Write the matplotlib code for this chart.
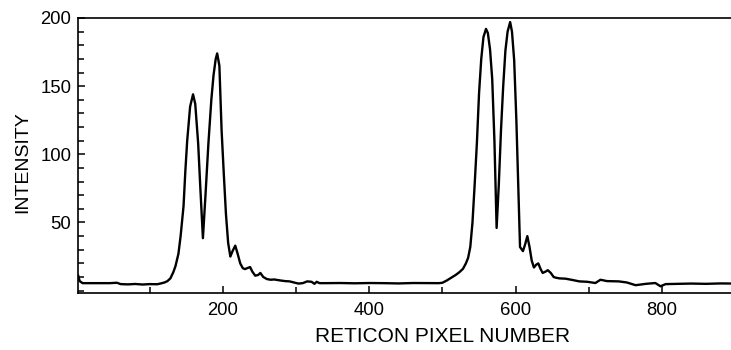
import matplotlib
matplotlib.use("Agg")
import matplotlib.pyplot as plt
from matplotlib.ticker import MultipleLocator

plt.rcParams['font.family'] = ['Liberation Sans', 'DejaVu Sans']

pixel = [2, 4, 8, 15, 30, 45, 55, 60, 70, 80, 90, 100, 110, 115, 120, 124, 128,
         132, 135, 139, 142, 146, 148.5, 151, 155, 159, 162, 166, 169, 172.5,
         176, 180, 184, 187, 190, 192, 195, 198, 201, 204, 207, 210, 213,
         216.7, 220, 223.5, 227, 230, 233, 237, 240, 244, 248, 251,
         255, 260, 265, 270, 278, 285, 291, 297, 303, 309, 315, 321, 325, 328,
         332, 340, 360, 380, 400, 420, 440, 460, 480, 495, 500, 506, 512, 518,
         523, 528, 532, 535, 538, 541, 544, 547, 550, 553, 556, 559.5, 562, 565,
         568, 571, 574, 577, 580, 583, 586, 589, 592.5, 595, 598, 601, 604, 606,
         610, 613, 616, 619, 622, 625, 628, 631, 634, 637, 641, 644, 648, 652,
         655, 660, 668, 678, 687, 698, 709, 716, 725, 741, 752, 764, 778, 791,
         798, 805, 820, 840, 860, 880, 900]

intensity = [11, 7, 5.5, 5.5, 5.5, 5.5, 5.8, 4.8, 4.6, 4.9, 4.5, 4.8, 4.7, 5.3,
             6, 7, 9,
             13.5, 18, 27, 40, 62, 88, 110, 135, 144, 137, 108, 75, 38.5,
             70, 108, 140, 158, 170, 174, 165, 118, 86, 56, 35, 25, 29,
             33, 27, 20, 16.5, 15.8, 16.5, 17.3, 14, 11, 11.5, 13,
             10, 8.5, 8, 8.2, 7.5, 7, 6.8, 6, 5.2, 5.5, 6.8, 6.5, 5, 6.5,
             5.5, 5.5, 5.6, 5.4, 5.6, 5.5, 5.3, 5.6, 5.5, 5.5, 5.8, 7.5, 9.5, 11.5,
             13.5, 16, 20, 24, 32, 50, 78, 108, 145, 170, 186, 192, 189, 177,
             155, 110, 46, 78, 118, 150, 176, 190, 197, 190, 169, 125, 70, 32,
             29, 34, 40, 32, 22, 17, 19, 20, 16, 13, 14, 15, 13, 10,
             9.5, 9, 8.8, 7.8, 6.8, 6.5, 5.6, 8, 7, 6.8, 6, 4, 5, 5.6,
             3.2, 4.8, 5, 5.2, 5, 5.3, 5.2]

x_major = [200, 400, 600, 800]
y_major = [50, 100, 150, 200]

W, H = 731, 350
fig = plt.figure(figsize=(W / 100, H / 100), dpi=100)
x0, x1 = 2, 900
y0, y1 = -1.5, 200
left_px, bottom_px = 78.2, 57.3
ax = fig.add_axes([left_px / W, bottom_px / H,
                   (x1 - x0) * 0.7315 / W, (292.7 - 18) / H])

ax.plot(pixel, intensity, color='black', lw=1.7, solid_joinstyle='round')
ax.set_xlim(x0, x1)
ax.set_ylim(y0, y1)

ax.set_xticks(x_major)
ax.set_yticks(y_major)
ax.xaxis.set_minor_locator(MultipleLocator(100))
ax.yaxis.set_minor_locator(MultipleLocator(10))
ax.tick_params(which='both', direction='in', width=1.1, colors='black')
ax.tick_params(which='major', length=5)
ax.tick_params(which='minor', length=4)
ax.tick_params(axis='x', which='major', labelsize=13.3, pad=7)
ax.tick_params(axis='y', which='major', labelsize=13.3, pad=5)

for s in ax.spines.values():
    s.set_linewidth(1.2)

ax.set_xlabel('RETICON PIXEL NUMBER', fontsize=15)
ax.set_ylabel('INTENSITY', fontsize=14)
ax.xaxis.set_label_coords(0.5546, -0.125)
ax.yaxis.set_label_coords(-0.071, 0.474)

fig.savefig('out.png', dpi=100)
